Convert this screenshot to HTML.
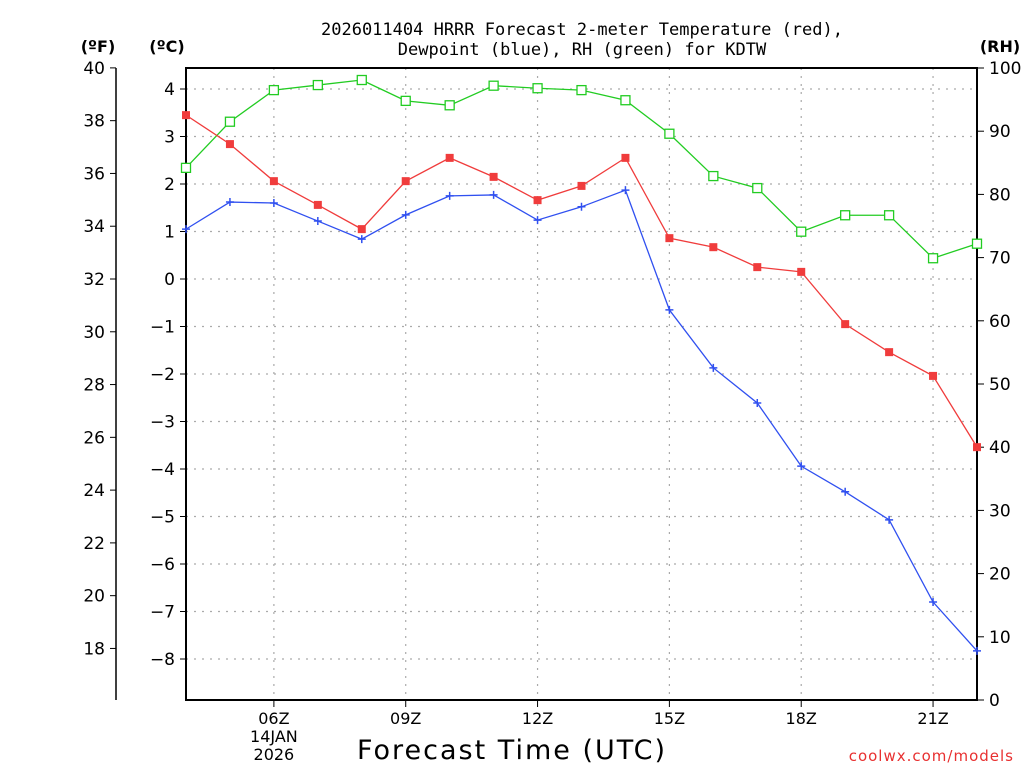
<!DOCTYPE html>
<html><head><meta charset="utf-8"><style>
body{margin:0;background:#fff;}
svg{display:block;font-family:"DejaVu Sans","Liberation Sans",sans-serif;}
</style></head><body>
<svg id="chart" width="1024" height="768" viewBox="0 0 1024 768" xmlns="http://www.w3.org/2000/svg">
<rect width="1024" height="768" fill="#fff"/>
<text x="582" y="35" text-anchor="middle" font-size="17" fill="#000" font-family="DejaVu Sans Mono, Liberation Mono, monospace">2026011404 HRRR Forecast 2-meter Temperature (red),</text>
<text x="582" y="55" text-anchor="middle" font-size="17" fill="#000" font-family="DejaVu Sans Mono, Liberation Mono, monospace">Dewpoint (blue), RH (green) for KDTW</text>
<text x="98" y="52" text-anchor="middle" font-size="16" font-weight="bold">(ºF)</text>
<text x="167" y="52" text-anchor="middle" font-size="16" font-weight="bold">(ºC)</text>
<text x="1000" y="52" text-anchor="middle" font-size="16" font-weight="bold">(RH)</text>
<text x="512" y="759" text-anchor="middle" font-size="27" fill="#000" letter-spacing="2">Forecast Time (UTC)</text>
<text x="1014" y="761" text-anchor="end" font-size="15" fill="#e83030" letter-spacing="1">coolwx.com/models</text>
<g id="grid"></g>
<g id="axes"></g>
<g id="series"></g>
</svg>
<script>
const hours=[4,5,6,7,8,9,10,11,12,13,14,15,16,17,18,19,20,21,22];
const tempC=[3.45,2.84,2.06,1.56,1.05,2.06,2.55,2.15,1.66,1.96,2.55,0.86,0.67,0.25,0.15,-0.95,-1.54,-2.04,-3.54];
const dewC=[1.05,1.62,1.60,1.22,0.84,1.35,1.75,1.77,1.24,1.52,1.87,-0.65,-1.87,-2.61,-3.94,-4.48,-5.07,-6.80,-7.83];
const rh=[84.2,91.5,96.5,97.3,98.1,94.8,94.1,97.2,96.8,96.5,94.9,89.6,82.9,81.0,74.1,76.7,76.7,69.9,72.2];
const xTickHours=[6,9,12,15,18,21];
const xTickLabels=["06Z","09Z","12Z","15Z","18Z","21Z"];
const cTicks=[4,3,2,1,0,-1,-2,-3,-4,-5,-6,-7,-8];
const fTicks=[40,38,36,34,32,30,28,26,24,22,20,18];
const rhTicks=[0,10,20,30,40,50,60,70,80,90,100];

const L=186,R=977,T=68,B=700;
const NS="http://www.w3.org/2000/svg";
const x=h=>L+(h-4)*(R-L)/18;
const yC=c=>279-c*47.5;
const yF=f=>yC((f-32)*5/9);
const yRH=v=>B-v*(B-T)/100;
function mk(tag,attrs,parent,txt){const e=document.createElementNS(NS,tag);for(const k in attrs)e.setAttribute(k,attrs[k]);if(txt!==undefined)e.textContent=txt;parent.appendChild(e);return e;}
const grid=document.getElementById('grid'),axes=document.getElementById('axes'),series=document.getElementById('series');
cTicks.forEach(c=>{const l=mk('line',{x1:L,x2:R,y1:yC(c),y2:yC(c),stroke:'#aaa','stroke-dasharray':'2,6','stroke-width':1.2},grid);

});
xTickHours.forEach((h,i)=>{const l=mk('line',{x1:x(h),x2:x(h),y1:T,y2:B,stroke:'#aaa','stroke-dasharray':'2,6','stroke-width':1.2},grid);


const tk=mk('line',{x1:x(h),x2:x(h),y1:B,y2:B+7,stroke:'#000','stroke-width':1},axes);


const t=mk('text',{x:x(h),y:B+24,'text-anchor':'middle','font-size':16},axes,xTickLabels[i]);


if(i===0){const d1=mk('text',{x:x(h),y:B+42,'text-anchor':'middle','font-size':16},axes,'14JAN');


const d2=mk('text',{x:x(h),y:B+60,'text-anchor':'middle','font-size':16},axes,'2026');

}
});
const fr=mk('path',{d:`M${L},${T}H${R}V${B}H${L}Z`,fill:'none',stroke:'#000','stroke-width':2},axes);


const fa=mk('line',{x1:116,x2:116,y1:T,y2:B,stroke:'#000','stroke-width':1.5},axes);


fTicks.forEach(f=>{const tk=mk('line',{x1:110,x2:116,y1:yF(f),y2:yF(f),stroke:'#000'},axes);


const t=mk('text',{x:105,y:yF(f)+6,'text-anchor':'end','font-size':17},axes,String(f));

});
cTicks.forEach(c=>{const tk=mk('line',{x1:180,x2:L,y1:yC(c),y2:yC(c),stroke:'#000'},axes);


const t=mk('text',{x:175,y:yC(c)+6,'text-anchor':'end','font-size':17},axes,c<0?'\u2212'+(-c):String(c));

});
rhTicks.forEach(v=>{const tk=mk('line',{x1:R,x2:R+7,y1:yRH(v),y2:yRH(v),stroke:'#000'},axes);


const t=mk('text',{x:989,y:yRH(v)+6,'text-anchor':'start','font-size':17},axes,String(v));

});
function line(vals,yf,color,name){const pts=vals.map((v,i)=>x(hours[i])+','+yf(v)).join(' ');
const p=mk('polyline',{points:pts,fill:'none',stroke:color,'stroke-width':1.3},series);

}
line(rh,yRH,'#22cc22','rh-line');
line(tempC,yC,'#f03c3c','temperature-line');
line(dewC,yC,'#3050f0','dewpoint-line');
rh.forEach((v,i)=>{const m=mk('rect',{x:x(hours[i])-4.5,y:yRH(v)-4.5,width:9,height:9,fill:'#fff',stroke:'#22cc22','stroke-width':1.3},series);

});
tempC.forEach((v,i)=>{const m=mk('rect',{x:x(hours[i])-4,y:yC(v)-4,width:8,height:8,fill:'#f03c3c'},series);

});
dewC.forEach((v,i)=>{const m=mk('path',{d:`M${x(hours[i])-4},${yC(v)}h8M${x(hours[i])},${yC(v)-4}v8`,stroke:'#3050f0','stroke-width':1.5},series);

});
</script>
</body></html>
